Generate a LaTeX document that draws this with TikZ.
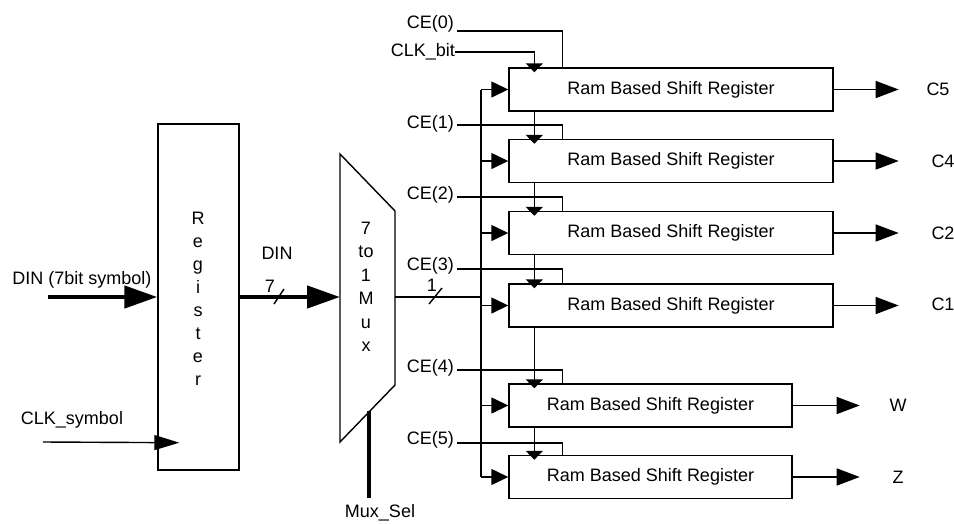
\documentclass[tikz,border=0pt]{standalone}
\usepackage{fontspec}
\setmainfont{Liberation Sans}
\usetikzlibrary{arrows.meta,calc}
\begin{document}
\begin{tikzpicture}[x=1pt,y=-1pt,
  every node/.style={font=\fontsize{18}{21}\selectfont, inner sep=0pt},
  wire/.style={line width=1.4pt},
  bus4/.style={line width=4.5pt},
  boxed/.style={draw, line width=1.4pt, rectangle},
  srbox/.style={boxed, minimum width=324pt, minimum height=43pt},
  srshort/.style={boxed, minimum width=283pt, minimum height=43pt},
  bigtip/.style={-{Triangle[length=33pt,width=22pt]}},
  srtip/.style={-{Triangle[length=17pt,width=16pt]}},
  outtip/.style={-{Triangle[length=23pt,width=17pt]}},
  clktip/.style={-{Triangle[length=9pt,width=17pt]}},
  symtip/.style={-{Triangle[length=25pt,width=15pt]}}]
\useasboundingbox (0,0) rectangle (954,523);

% input register
\node[boxed, minimum width=81pt, minimum height=346pt] (reg) at (198.5,297) {};
\node[align=center, font=\fontsize{18}{23}\selectfont] (regtxt) at (198,299) {R\\e\\g\\i\\s\\t\\e\\r};
\coordinate (dinin) at (48,297);
\coordinate (clkin) at (43,442);
\node (dinlbl) at (82,280) {DIN (7bit symbol)};
\node (clklbl) at (72,420) {CLK\_symbol};
\draw[bus4, bigtip] (dinin) -- (reg.west);
\draw[wire, symtip] (clkin) -- ($(reg.south west)+(22,-28)$);

% 7 to 1 multiplexer
\draw[wire] (340,154) coordinate (muxtl) -- (395,211) -- (395,385) -- (340,442) -- cycle;
\coordinate (muxin) at (340,297);
\coordinate (muxout) at (395,297);
\coordinate (muxsel) at (369,411);
\coordinate (muxselend) at (369,498);
\node[align=center, font=\fontsize{18}{23.5}\selectfont] (muxtxt) at (366,287) {7\\to\\1\\M\\u\\x};
\draw[bus4, bigtip] (reg.east) -- (muxin);
\node (dinbus) at (277,253) {DIN};
\node (w7) at (270,286) {7};
\draw[wire] (274,304) -- (284,289);
\draw[bus4] (muxsel) -- (muxselend);
\node (sellbl) at (380,513) {Mux\_Sel};

% shift registers
\node[srbox] (sr1) at (671,89.5) {Ram Based Shift Register};
\node[srbox] (sr2) at (671,161) {Ram Based Shift Register};
\node[srbox] (sr3) at (671,233) {Ram Based Shift Register};
\node[srbox] (sr4) at (671,305.5) {Ram Based Shift Register};
\node[srshort] (sr5) at (650.5,405.5) {Ram Based Shift Register};
\node[srshort] (sr6) at (650.5,477) {Ram Based Shift Register};

% data bus from the multiplexer
\coordinate (bus) at (481,0);
\draw[wire] (muxout) -- (muxout -| bus);
\node (w1) at (432,285) {1};
\draw[wire] (429,304) -- (442,288);
\draw[wire] (sr1.west -| bus) -- (sr6.west -| bus);
\foreach \s in {sr1,sr2,sr3,sr4,sr5,sr6}
  \draw[wire, srtip] (\s.west -| bus) -- (\s.west);

% bit clock chain
\node[anchor=east] (clkbit) at (455,52) {CLK\_bit};
\draw[wire, clktip] (clkbit.east) -| ($(sr1.north west)+(26,5)$);
\draw[wire, clktip] ($(sr1.south west)+(26,0)$) -- ($(sr2.north west)+(26,5)$);
\draw[wire, clktip] ($(sr2.south west)+(26,0)$) -- ($(sr3.north west)+(26,5)$);
\draw[wire, clktip] ($(sr3.south west)+(26,0)$) -- ($(sr4.north west)+(26,5)$);
\draw[wire, clktip] ($(sr4.south west)+(26,0)$) -- ($(sr5.north west)+(26,5)$);
\draw[wire, clktip] ($(sr5.south west)+(26,0)$) -- ($(sr6.north west)+(26,5)$);

% clock enables
\node[anchor=east] (ce0) at (454,24) {CE(0)};
\node[anchor=east] (ce1) at (454,124) {CE(1)};
\node[anchor=east] (ce2) at (454,195) {CE(2)};
\node[anchor=east] (ce3) at (454,266) {CE(3)};
\node[anchor=east] (ce4) at (454,368) {CE(4)};
\node[anchor=east] (ce5) at (454,440) {CE(5)};
\coordinate (ce0w) at (457,31);
\coordinate (ce1w) at (457,125);
\coordinate (ce2w) at (457,197);
\coordinate (ce3w) at (457,269);
\coordinate (ce4w) at (457,370);
\coordinate (ce5w) at (457,443);
\draw[wire] (ce0w) -| ($(sr1.north west)+(54,0)$);
\draw[wire] (ce1w) -| ($(sr2.north west)+(54,0)$);
\draw[wire] (ce2w) -| ($(sr3.north west)+(54,0)$);
\draw[wire] (ce3w) -| ($(sr4.north west)+(54,0)$);
\draw[wire] (ce4w) -| ($(sr5.north west)+(54,0)$);
\draw[wire] (ce5w) -| ($(sr6.north west)+(54,0)$);

% outputs
\draw[wire, outtip] (sr1.east) -- ++(65,0);
\draw[wire, outtip] (sr2.east) -- ++(65,0);
\draw[wire, outtip] (sr3.east) -- ++(65,0);
\draw[wire, outtip] (sr4.east) -- ++(65,0);
\draw[wire, outtip] (sr5.east) -- ++(67,0);
\draw[wire, outtip] (sr6.east) -- ++(67,0);
\node (c5) at (938,89) {C5};
\node (c4) at (943,161) {C4};
\node (c2) at (943,233) {C2};
\node (c1) at (943,304) {C1};
\node (ow) at (898,405) {W};
\node (oz) at (898,477) {Z};
\end{tikzpicture}
\end{document}
